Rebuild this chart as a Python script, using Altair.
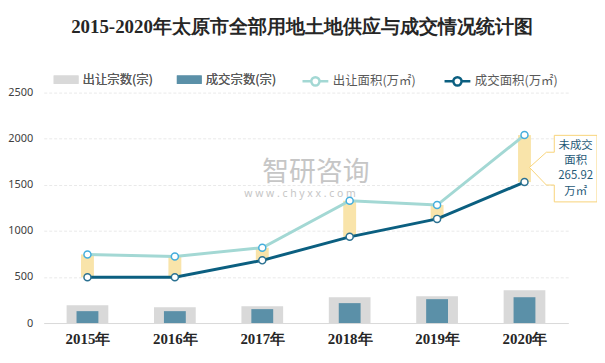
import altair as alt
import pandas as pd

# ---- data ----
years = ["2015年", "2016年", "2017年", "2018年", "2019年", "2020年"]
supply_count = [194, 172, 183, 280, 291, 356]      # 出让宗数(宗)
deal_count = [129, 129, 151, 216, 259, 280]        # 成交宗数(宗)
supply_area = [744, 723, 817, 1327, 1280, 2039]    # 出让面积(万㎡)
deal_area = [496, 496, 680, 935, 1130, 1529]       # 成交面积(万㎡)
bar_series = ["出让宗数(宗)", "成交宗数(宗)"]
line_series = ["出让面积(万㎡)", "成交面积(万㎡)"]
y_ticks = [0, 500, 1000, 1500, 2000, 2500]
note_lines = ["未成交", "面积", "265.92", "万㎡"]
title_text = "2015-2020年太原市全部用地土地供应与成交情况统计图"
watermark_main = "智研咨询"
watermark_sub = "w w w . c h y x x . c o m"

# ---- tables ----
wide = pd.DataFrame({"year": years, "sc": supply_count, "dc": deal_count,
                     "sa": supply_area, "da": deal_area})
count_long = pd.DataFrame({
    "year": years * 2,
    "value": supply_count + deal_count,
    "s": [bar_series[0]] * len(years) + [bar_series[1]] * len(years),
})
area_long = pd.DataFrame({
    "year": years * 2,
    "value": supply_area + deal_area,
    "s": [line_series[0]] * len(years) + [line_series[1]] * len(years),
})

CJK = "Noto Sans CJK SC"
SERIF = "Liberation Serif"

x_enc = alt.X("year:N", sort=years,
              scale=alt.Scale(type="point", padding=0.5),
              axis=alt.Axis(title=None, labelAngle=0, ticks=False, grid=False,
                            domain=True, domainColor="#d9d9d9", domainWidth=1,
                            labelFont=SERIF, labelFontSize=15, labelFontWeight="bold",
                            labelColor="#262626", labelPadding=9))
y_scale = alt.Scale(domain=[0, 2500], nice=False, zero=True)
y_axis = alt.Axis(title=None, values=y_ticks, format="d", ticks=False, domain=False,
                  grid=True, gridColor="#e9e9e9", gridDash=[3, 2], gridWidth=1,
                  labelFont="Noto Sans", labelFontSize=11, labelColor="#404040",
                  labelPadding=11)


def yq(field):
    return alt.Y(f"{field}:Q", scale=y_scale, axis=y_axis)


fill_scale = alt.Scale(domain=bar_series, range=["#d9d9d9", "#5b90a8"])
fill_legend = alt.Legend(orient="none", legendX=10, legendY=-25.5,
                         direction="horizontal", title=None,
                         symbolType="M-1,-0.34H1V0.34H-1Z", symbolSize=625,
                         symbolStrokeWidth=0, labelOffset=4, columnPadding=24,
                         padding=0, labelFont=CJK, labelFontSize=12.5,
                         labelColor="#595959")
stroke_scale = alt.Scale(domain=line_series, range=["#a3d8d4", "#0b5f80"])
stroke_legend = alt.Legend(orient="none", legendX=259, legendY=-26,
                           direction="horizontal", title=None,
                           symbolType="M-1,0H-0.32M0.32,0H1M0.32,0A0.32,0.32 0 1,1 -0.32,0A0.32,0.32 0 1,1 0.32,0",
                           symbolSize=676, symbolStrokeWidth=2.5,
                           symbolFillColor="white",
                           labelOffset=3, columnPadding=23, padding=0,
                           labelFont=CJK, labelFontSize=12.5,
                           labelColor="#595959")

# watermark (decoration)
wm = pd.DataFrame({"t": [watermark_main]})
wm_main = alt.Chart(wm).mark_text(font=CJK, fontSize=27, color="#b8b8b8",
                                  opacity=0.8, align="center", baseline="middle").encode(
    text="t:N", x=alt.value(274), y=alt.value(81))
wm2 = pd.DataFrame({"t": [watermark_sub]})
wm_sub = alt.Chart(wm2).mark_text(font="Noto Sans", fontSize=10.5, color="#b8b8b8",
                                  opacity=0.8, align="center", baseline="middle").encode(
    text="t:N", x=alt.value(258), y=alt.value(102))

bars_supply = alt.Chart(count_long).transform_filter(
    alt.datum.s == bar_series[0]).mark_bar(size=42).encode(
    x=x_enc, y=yq("value"),
    fill=alt.Fill("s:N", scale=fill_scale, legend=fill_legend))
bars_deal = alt.Chart(count_long).transform_filter(
    alt.datum.s == bar_series[1]).mark_bar(size=22).encode(
    x=x_enc, y=yq("value"),
    fill=alt.Fill("s:N", scale=fill_scale, legend=fill_legend))

gap = alt.Chart(wide).mark_bar(size=13, color="#f9e4aa").encode(
    x=x_enc, y=yq("da"), y2="sa:Q")

lines = alt.Chart(area_long).mark_line(strokeWidth=3).encode(
    x=x_enc, y=yq("value"),
    stroke=alt.Stroke("s:N", scale=stroke_scale, legend=stroke_legend))

pts_supply = alt.Chart(wide).mark_point(shape="circle", filled=False, fill="white",
                                        stroke="#45aedc", strokeWidth=1.5,
                                        size=50, opacity=1).encode(
    x=x_enc, y=yq("sa"))
pts_deal = alt.Chart(wide).mark_point(shape="circle", filled=False, fill="white",
                                      stroke="#2b7191", strokeWidth=1.5,
                                      size=50, opacity=1).encode(
    x=x_enc, y=yq("da"))

last = alt.Chart(wide).transform_filter(alt.datum.year == years[-1]).transform_calculate(
    mid="(datum.sa + datum.da) / 2")
callout = last.mark_point(
    shape="M3.0,-2.34H7.3V4.36H3.0V2.66H2.2L0.5,0.89L2.2,-0.64H3.0Z",
    size=400, filled=False, fill="white", stroke="#f8d47a", strokeWidth=1,
    opacity=1).encode(x=x_enc, y=yq("mid"))
note = last.mark_text(text=note_lines, font=CJK, fontSize=11.5, color="#1f5a78",
                      align="center", baseline="middle", lineHeight=15.3,
                      dx=51.5, dy=-12.7).encode(x=x_enc, y=yq("mid"))

chart = alt.layer(
    wm_main, wm_sub, bars_supply, bars_deal, gap, lines, pts_supply, pts_deal,
    callout, note,
).resolve_scale(
    fill="independent", stroke="independent"
).properties(
    width=528, height=232,
    autosize=alt.AutoSizeParams(type="none"),
    padding={"left": 36, "top": 84, "right": 29, "bottom": 31},
    title=alt.TitleParams(title_text, font=SERIF, fontSize=19, fontWeight="bold",
                          color="#262626", anchor="middle", offset=30, dx=-4),
    background="white",
).configure_view(stroke=None)

chart.save("out.html", embed_options={"renderer": "svg", "actions": False})
